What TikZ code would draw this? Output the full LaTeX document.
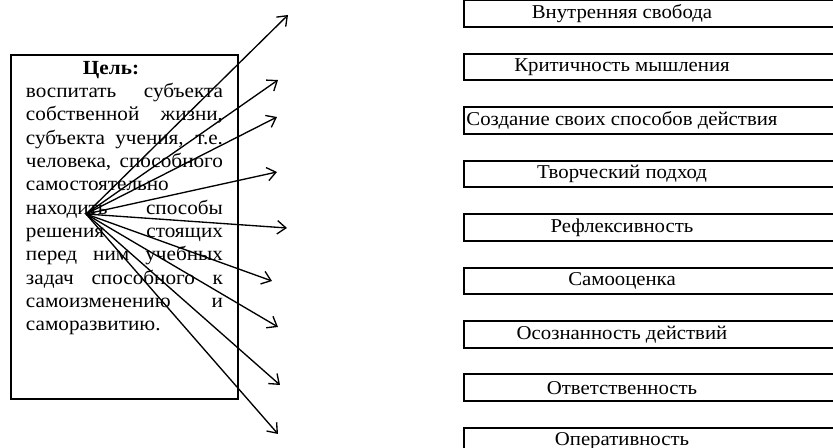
\documentclass[tikz,border=0pt]{standalone}
\usepackage{fontspec}
\setmainfont[FakeStretch=1.06]{Liberation Serif}
\usetikzlibrary{positioning, arrows.meta}

\newcommand{\jline}[1]{\makebox[\linewidth][s]{#1}}

\begin{document}
\begin{tikzpicture}[x=0.75pt, y=-0.75pt,
      goalbox/.style={rectangle, draw, line width=1.5pt, anchor=north west, inner xsep=11.25pt, inner ysep=4.5pt},
      quality/.style={rectangle, minimum width=237pt, minimum height=19.5pt, inner sep=0pt,
      font=\fontsize{14.7pt}{17pt}\selectfont},
      frame/.style={line width=1.5pt},
      pointer/.style={-{Straight Barb[length=6.5pt, width=10pt]}, line width=1pt}
    ]
      \useasboundingbox (0,0) rectangle (833,448);
      \clip (0,0) rectangle (833,448);

      \node[goalbox] (goal) at (10,54) {\parbox[t][249pt][t]{147.75pt}{\fontsize{15pt}{17.5pt}\selectfont
        \hspace*{42.75pt}\textbf{Цель:}\\
        \jline{воспитать субъекта}\\
        \jline{собственной жизни,}\\
        \jline{субъекта учения, т.е.}\\
        \jline{человека, способного}\\
        самостоятельно\\
        \jline{находить способы}\\
        \jline{решения стоящих}\\
        \jline{перед ним учебных}\\
        \jline{задач способного к}\\
        \jline{самоизменению и}\\
        саморазвитию.}};

      \node[quality] (q1) at (622,13.5) {Внутренняя свобода};
      \node[quality, below=20.2pt of q1] (q2) {Критичность мышления};
      \node[quality, below=20.2pt of q2] (q3) {Создание своих способов действия};
      \node[quality, below=20.2pt of q3] (q4) {Творческий подход};
      \node[quality, below=20.2pt of q4] (q5) {Рефлексивность};
      \node[quality, below=20.2pt of q5] (q6) {Самооценка};
      \node[quality, below=20.2pt of q6] (q7) {Осознанность действий};
      \node[quality, below=20.2pt of q7] (q8) {Ответственность};
      \node[quality, below=20.2pt of q8] (q9) {Оперативность};

      % open frames, cut by the page edge
      \foreach \i in {1,...,9}
        \draw[frame] ([xshift=100pt]q\i.north east) -- (q\i.north west) -- (q\i.south west) -- ([xshift=100pt]q\i.south east);

      \coordinate (hub) at (86,214);
      \coordinate (t1) at (288,15);
      \coordinate (t2) at (278,80);
      \coordinate (t3) at (277,117);
      \coordinate (t4) at (277,172);
      \coordinate (t5) at (287,228);
      \coordinate (t6) at (272,281);
      \coordinate (t7) at (278,327);
      \coordinate (t8) at (280,385);
      \coordinate (t9) at (278,434);

      \foreach \i in {1,...,9}
        \draw[pointer] (hub) -- (t\i);
    \end{tikzpicture}
\end{document}
